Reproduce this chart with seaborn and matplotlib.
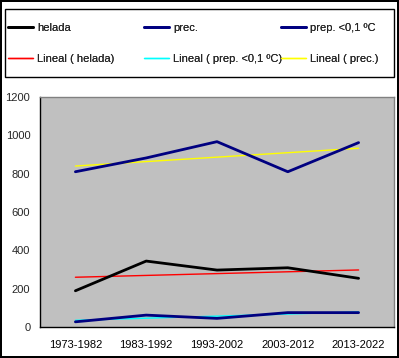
import numpy as np
import pandas as pd
import matplotlib
matplotlib.use("Agg")
import matplotlib.pyplot as plt
import seaborn as sns
from matplotlib.patches import Rectangle
from matplotlib.ticker import FixedLocator, NullFormatter

# Data
periods = ["1973-1982", "1983-1992", "1993-2002", "2003-2012", "2013-2022"]
helada = [189, 344, 297, 309, 254]
prec = [810, 882, 967, 810, 962]
prep_01 = [27, 62, 45, 75, 75]

sns.set_style("white")
plt.rcParams["font.family"] = ["Liberation Sans", "DejaVu Sans"]
plt.rcParams["font.size"] = 8

df = pd.DataFrame({"period": periods, "helada": helada, "prec": prec, "prep": prep_01})
xi = np.arange(len(periods))

# linear trend lines, as in the spreadsheet
def trend(vals):
    m, b = np.polyfit(xi, vals, 1)
    return m * xi + b

df["t_helada"] = trend(helada)
df["t_prec"] = trend(prec)
df["t_prep"] = trend(prep_01)

W, H = 399, 358
fig = plt.figure(figsize=(W / 100, H / 100), dpi=100)
fig.patch.set_edgecolor("black")
fig.patch.set_linewidth(1.5)
ax = fig.add_axes([40 / W, 31 / H, 354 / W, 230 / H])
ax.set_facecolor("#C0C0C0")

lw = 2.0
sns.lineplot(data=df, x="period", y="t_helada", ax=ax, color="red", lw=1, label="Lineal ( helada)", sort=False)
sns.lineplot(data=df, x="period", y="t_prep", ax=ax, color="cyan", lw=1, label="Lineal ( prep. <0,1 ºC)", sort=False)
sns.lineplot(data=df, x="period", y="t_prec", ax=ax, color="yellow", lw=1, label="Lineal ( prec.)", sort=False)
sns.lineplot(data=df, x="period", y="helada", ax=ax, color="black", lw=lw, label="helada", sort=False)
sns.lineplot(data=df, x="period", y="prec", ax=ax, color="#000080", lw=lw, label="prec.", sort=False)
sns.lineplot(data=df, x="period", y="prep", ax=ax, color="#000080", lw=lw, label="prep. <0,1 ºC", sort=False)

ax.set_xlim(-0.5, len(periods) - 0.5)
ax.set_ylim(0, 1200)
ax.set_yticks(range(0, 1201, 200))
ax.set_xlabel("")
ax.set_ylabel("")
ax.xaxis.set_minor_locator(FixedLocator(np.arange(-0.5, len(periods), 1)))
ax.xaxis.set_minor_formatter(NullFormatter())
ax.tick_params(axis="x", which="major", length=0, pad=9, labelsize=8, colors="black")
ax.tick_params(axis="x", which="minor", length=4, width=1, color="black", direction="out")
ax.tick_params(axis="y", length=4, width=1, color="black", direction="out", labelsize=8, pad=3)

for s in ["left", "bottom"]:
    ax.spines[s].set_color("black")
    ax.spines[s].set_linewidth(1)
for s in ["top", "right"]:
    ax.spines[s].set_color("#808080")
    ax.spines[s].set_linewidth(1)

handles, labels = ax.get_legend_handles_labels()
hmap = dict(zip(labels, handles))
ax.get_legend().remove()

# legend box, then three equal-width columns like the spreadsheet
fig.patches.append(Rectangle((5 / W, 1 - 77 / H), 389 / W, 68 / H, transform=fig.transFigure,
                             fill=False, edgecolor="black", linewidth=1))
columns = [["helada", "Lineal ( helada)"],
           ["prec.", "Lineal ( prep. <0,1 ºC)"],
           ["prep. <0,1 ºC", "Lineal ( prec.)"]]
col_x = [8, 144, 281]
for cx, col in zip(col_x, columns):
    lg = fig.legend([hmap[c] for c in col], col, loc="upper left",
                    bbox_to_anchor=(cx / W, 1 - 23 / H), frameon=False,
                    borderpad=0, borderaxespad=0, handlelength=2.25,
                    handletextpad=0.4, labelspacing=1.9, fontsize=8)
    fig.add_artist(lg)

fig.savefig("out.png", dpi=100)
